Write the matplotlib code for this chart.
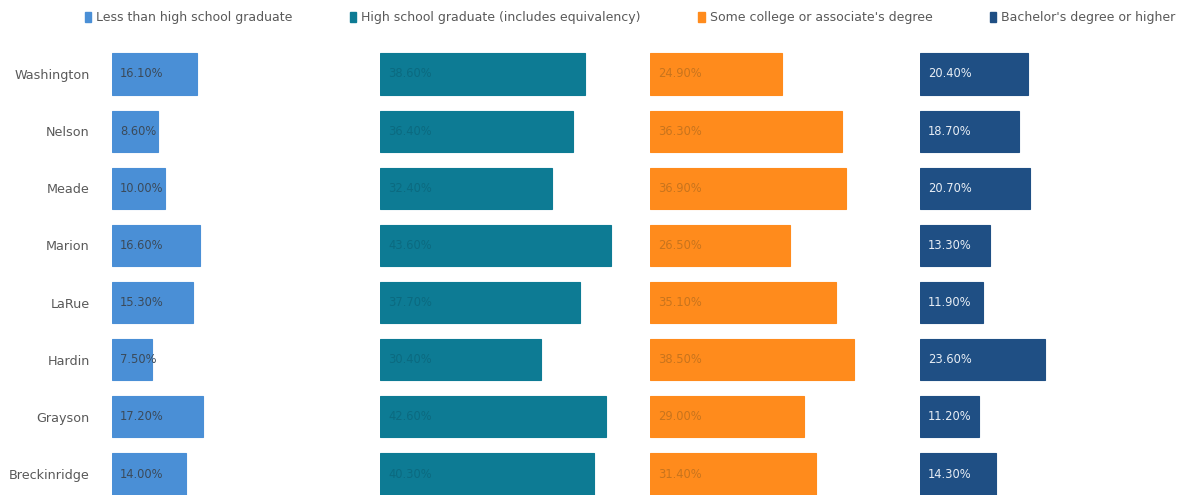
import matplotlib
matplotlib.use("Agg")
import matplotlib.pyplot as plt
from matplotlib.patches import Patch

counties = ["Washington", "Nelson", "Meade", "Marion", "LaRue", "Hardin", "Grayson", "Breckinridge"]
less_hs = [16.1, 8.6, 10.0, 16.6, 15.3, 7.5, 17.2, 14.0]
hs_grad = [38.6, 36.4, 32.4, 43.6, 37.7, 30.4, 42.6, 40.3]
some_college = [24.9, 36.3, 36.9, 26.5, 35.1, 38.5, 29.0, 31.4]
bachelor = [20.4, 18.7, 20.7, 13.3, 11.9, 23.6, 11.2, 14.3]
series_names = ["Less than high school graduate",
                "High school graduate (includes equivalency)",
                "Some college or associate's degree",
                "Bachelor's degree or higher"]

series = [less_hs, hs_grad, some_college, bachelor]
colors = ["#4a8fd6", "#0d7b94", "#ff8b1c", "#1f4f84"]
label_colors = ["#3b4a5a", "#0b6a80", "#c8741c", "#e8eef5"]

W, H = 1189, 495
fig = plt.figure(figsize=(W / 100, H / 100), dpi=100)

left_px = [112, 380, 650, 920]
panel_w_px = 268
px_per_pct = 5.3
top_px = 45.4
bot_px = 502.6

n = len(counties)
for k, (vals, col, lc) in enumerate(zip(series, colors, label_colors)):
    ax = fig.add_axes([left_px[k] / W, (H - bot_px) / H, panel_w_px / W, (bot_px - top_px) / H])
    ypos = list(range(n))
    ax.barh(ypos, vals, height=0.72, color=col, edgecolor=col, linewidth=0.8)
    ax.set_xlim(0, panel_w_px / px_per_pct)
    ax.set_ylim(n - 0.5, -0.5)
    for i, v in enumerate(vals):
        ax.text(1.5, i, f"{v:.2f}%", va="center", ha="left", fontsize=8.3, color=lc)
    for s in ax.spines.values():
        s.set_visible(False)
    ax.set_xticks([])
    if k == 0:
        ax.set_yticks(ypos)
        ax.set_yticklabels(counties, fontsize=9.2, color="#595959")
        ax.tick_params(axis="y", length=0, pad=16)
    else:
        ax.set_yticks([])

handles = [Patch(facecolor=c, edgecolor=c) for c in colors]
fig.legend(handles, series_names, loc="center", bbox_to_anchor=(0.53, 1 - 18 / H), ncol=4,
           frameon=False, fontsize=9, handlelength=0.5, handleheight=0.8, handletextpad=0.4,
           columnspacing=4.6, labelcolor="#595959")

fig.savefig("out.png", dpi=100)
